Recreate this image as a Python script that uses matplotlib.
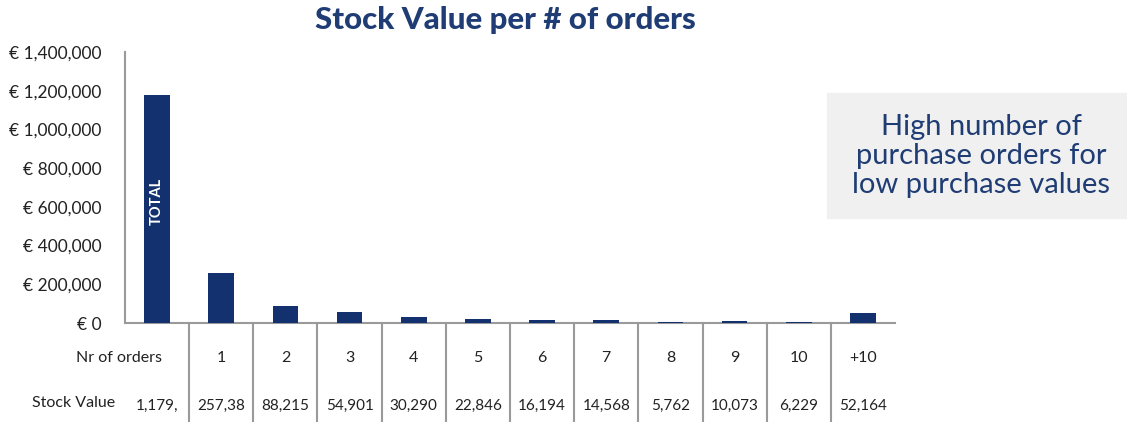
import matplotlib.pyplot as plt
import matplotlib.transforms as mtransforms
from matplotlib.ticker import FuncFormatter

plt.rcParams["font.family"] = ["Lato", "DejaVu Sans"]

categories = ["TOTAL", "1", "2", "3", "4", "5", "6", "7", "8", "9", "10", "+10"]
stock_values = [1179000, 257380, 88215, 54901, 30290, 22846, 16194, 14568, 5762, 10073, 6229, 52164]
# table text as shown in the picture (first two cells are cut off there)
stock_labels = ["1,179,", "257,38", "88,215", "54,901", "30,290", "22,846", "16,194",
                "14,568", "5,762", "10,073", "6,229", "52,164"]
yticks = [0, 200000, 400000, 600000, 800000, 1000000, 1200000, 1400000]

BAR = "#13316f"
NAVY = "#1f3d74"
GRID = "#9a9a9a"

W, H = 1127, 422
fig = plt.figure(figsize=(W / 100, H / 100), dpi=100)
ax = fig.add_axes([125 / W, (H - 323) / H, (895 - 125) / W, (323 - 52) / H])

x = list(range(len(categories)))
bars = ax.bar(x, stock_values, width=0.4, color=BAR, zorder=3)
ax.text(0, 630000, "TOTAL", rotation=90, color="white", ha="center", va="center",
        fontsize=10.5, fontweight="bold")

ax.set_xlim(-0.5, len(categories) - 0.5)
ax.set_ylim(0, 1400000)
ax.set_yticks(yticks)
ax.yaxis.set_major_formatter(FuncFormatter(lambda v, p: f"€ {int(v):,}"))
ax.tick_params(axis="y", length=0, pad=17, labelsize=12.5, labelcolor="#222222")
ax.set_xticks([])
for side in ["top", "right"]:
    ax.spines[side].set_visible(False)
for side in ["left", "bottom"]:
    ax.spines[side].set_color(GRID)
    ax.spines[side].set_linewidth(1.5)

# table rows under the axis
trans = mtransforms.blended_transform_factory(ax.transData, ax.transAxes)
ax_h = 323 - 52
row1 = -(358 - 323) / ax_h
row2 = -(406 - 323) / ax_h
for i, cat in enumerate(categories[1:], start=1):
    ax.text(i, row1, cat, transform=trans, ha="center", va="center", fontsize=11.5, color="#222222")
for i, lab in enumerate(stock_labels):
    ax.text(i, row2, lab, transform=trans, ha="center", va="center", fontsize=11, color="#222222")
ax.text(-0.6, row1, "Nr of orders", transform=trans, ha="center", va="center",
        fontsize=11.5, color="#222222")
ax.text(-1.3, row2 + 0.01, "Stock Value", transform=trans, ha="center", va="center",
        fontsize=11.5, color="#222222")
for i in range(len(categories) - 1):
    ax.plot([i + 0.5, i + 0.5], [0, -(H - 323) / ax_h], transform=trans, color=GRID,
            lw=1.5, clip_on=False)

fig.text(505 / W, 1 - 20 / H, "Stock Value per # of orders", ha="center", va="center",
         fontsize=22.5, fontweight="black", color=NAVY)

# callout box
fig.patches.append(plt.Rectangle((827 / W, (H - 218) / H), (W - 827) / W, 125 / H,
                                 transform=fig.transFigure, color="#f0f0f0", zorder=0))
fig.text(981 / W, 1 - 156 / H, "High number of\npurchase orders for\nlow purchase values",
         ha="center", va="center", fontsize=21, color=NAVY, linespacing=1.12)

fig.savefig("out.png", dpi=100)
